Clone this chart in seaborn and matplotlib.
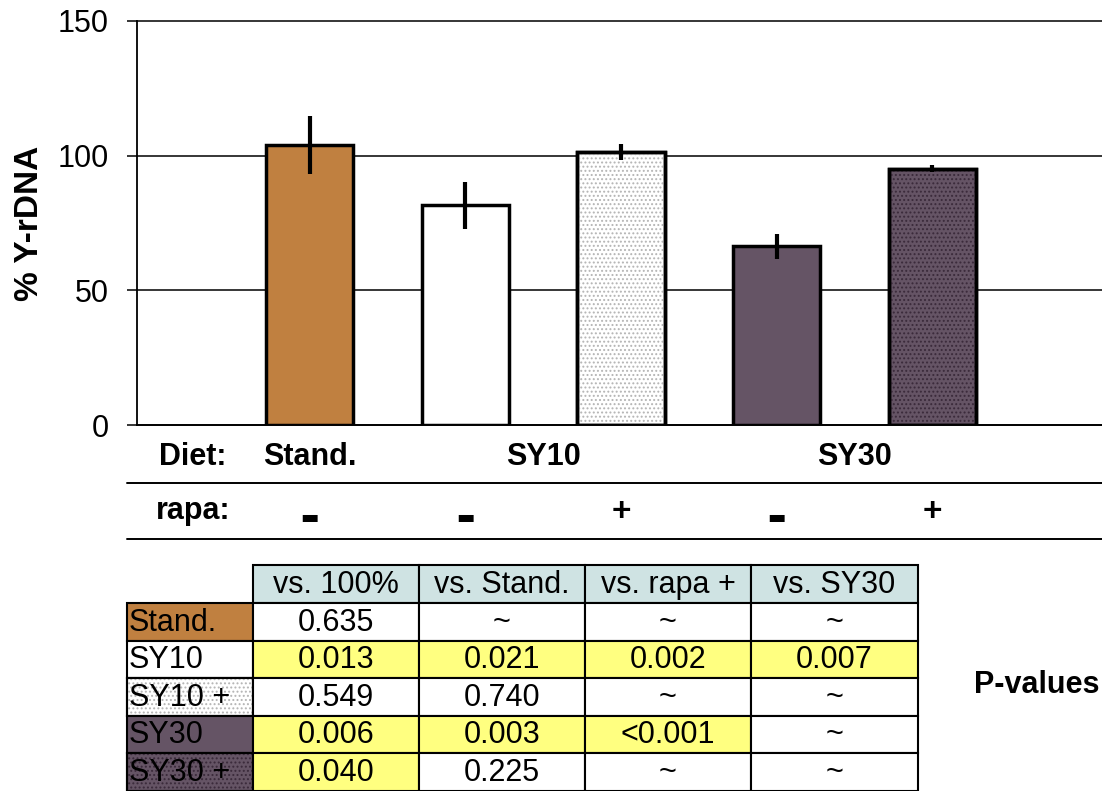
import matplotlib
matplotlib.use("Agg")
import matplotlib.pyplot as plt
from matplotlib.patches import Rectangle
from matplotlib import transforms
import numpy as np
import pandas as pd
import seaborn as sns

# Mean % Y-rDNA per diet / rapamycin group, with error
groups = ["Stand.", "SY10", "SY10 +", "SY30", "SY30 +"]
values = [103.8, 81.6, 101.3, 66.4, 95.2]
errors = [10.8, 8.7, 2.9, 4.7, 1.2]

# Row annotations under the bars
diets = ["Stand.", "SY10", "SY30"]
diet_members = [[0], [1, 2], [3, 4]]
rapa = ["-", "-", "+", "-", "+"]

# P-value table
pcols = ["vs. 100%", "vs. Stand.", "vs. rapa +", "vs. SY30"]
p_stand = ["0.635", "~", "~", "~"]
p_sy10 = ["0.013", "0.021", "0.002", "0.007"]
p_sy10r = ["0.549", "0.740", "~", "~"]
p_sy30 = ["0.006", "0.003", "<0.001", "~"]
p_sy30r = ["0.040", "0.225", "~", "~"]
prows = [p_stand, p_sy10, p_sy10r, p_sy30, p_sy30r]

# Styling
ORANGE = "#C08040"
PURPLE = "#655465"
face = {"Stand.": ORANGE, "SY10": "white", "SY10 +": "white",
        "SY30": PURPLE, "SY30 +": PURPLE}
hatch = {"SY10 +": ("....", "#b4b4b4"), "SY30 +": ("....", "#3a2a3a")}
HEAD = "#CFE3E3"
YELLOW = "#FFFF80"
FS = 22

sns.set_theme(style="white")
plt.rcParams["font.family"] = ["Liberation Sans", "DejaVu Sans"]
plt.rcParams.update({"text.color": "black", "axes.labelcolor": "black",
                     "xtick.color": "black", "ytick.color": "black",
                     "hatch.linewidth": 0.9})

W, H = 1102, 791
fig = plt.figure(figsize=(W / 100, H / 100), dpi=100)
fig.patch.set_facecolor("white")

# Overlay axes in pixel units for the annotation rows and the table
tax = fig.add_axes([0, 0, 1, 1])
tax.set_xlim(0, W)
tax.set_ylim(H, 0)
tax.axis("off")
tax.patch.set_alpha(0)

ax = fig.add_axes([137 / W, 1 - 425.3 / H, (W - 137) / W, (425.3 - 20.7) / H])
ax.patch.set_alpha(0)

df = pd.DataFrame({"group": groups, "value": values})
sns.barplot(data=df, x="group", y="value", hue="group", order=groups,
            hue_order=groups, palette=face, saturation=1, width=0.56,
            errorbar=None, edgecolor="black", linewidth=2.5, legend=False,
            ax=ax, zorder=2)

# dotted fills for the rapamycin groups
for cont, g in zip(ax.containers, groups):
    if g in hatch:
        pat, col = hatch[g]
        for p in cont:
            ax.add_patch(Rectangle(p.get_xy(), p.get_width(), p.get_height(),
                                   facecolor="none", edgecolor=col, linewidth=0,
                                   hatch=pat, zorder=2.1))
            ax.add_patch(Rectangle(p.get_xy(), p.get_width(), p.get_height(),
                                   facecolor="none", edgecolor="black",
                                   linewidth=2.5, zorder=2.2))

ax.errorbar(np.arange(len(groups)), values, yerr=errors, fmt="none",
            ecolor="black", elinewidth=3.0, capsize=0, zorder=3)

ax.set_xlim(-1.11, 5.09)
ax.set_ylim(0, 150)
ax.set_yticks([0, 50, 100, 150])
ax.set_xticks([])
ax.set_xlabel("")
ax.yaxis.grid(True, color="black", linewidth=1.1)
ax.set_axisbelow(True)
for gl in ax.yaxis.get_gridlines():
    gl.set_clip_on(False)
for s in ["top", "right"]:
    ax.spines[s].set_visible(False)
for s in ["left", "bottom"]:
    ax.spines[s].set_color("black")
    ax.spines[s].set_linewidth(1.3)
ax.tick_params(axis="y", direction="out", length=7.2, width=1.1,
               color="black", labelcolor="black", pad=13, labelsize=FS,
               left=True)
ax.set_ylabel("% Y-rDNA", fontsize=24, fontweight="bold", color="black")
ax.yaxis.set_label_coords(-0.095, 0.5)

# Diet / rapa rows below the axis
trans = transforms.blended_transform_factory(ax.transData, tax.transData)
for y in [483, 539]:
    tax.plot([127, W], [y, y], color="black", linewidth=1.4)
tax.text(193, 457, "Diet:", fontsize=FS, fontweight="bold",
         ha="center", va="center")
tax.text(193, 511, "rapa:", fontsize=FS, fontweight="bold",
         ha="center", va="center")
for name, members in zip(diets, diet_members):
    tax.text(np.mean(members), 457, name, transform=trans, fontsize=FS,
             fontweight="bold", ha="center", va="center")
for i, sgn in enumerate(rapa):
    if sgn == "+":
        tax.text(i, 512, "+", transform=trans, fontsize=24,
                 fontweight="bold", ha="center", va="center")
    else:
        tax.text(i, 518, "\u25AC", transform=trans, fontsize=14,
                 family="DejaVu Sans", ha="center", va="center")

# P-value table
def significant(s):
    return s != "~" and float(s.lstrip("<")) < 0.05

xe = [127, 253, 419, 585, 751, 918]
top, hh, rh = 565, 38, 37.5
lw = 1.5
for j, c in enumerate(pcols):
    x0, x1 = xe[j + 1], xe[j + 2]
    tax.add_patch(Rectangle((x0, top), x1 - x0, hh, facecolor=HEAD,
                            edgecolor="black", linewidth=lw))
    tax.text((x0 + x1) / 2, top + hh / 2 + 1, c, fontsize=FS,
             ha="center", va="center")
for i, (g, row) in enumerate(zip(groups, prows)):
    y0 = top + hh + i * rh
    tax.add_patch(Rectangle((xe[0], y0), xe[1] - xe[0], rh,
                            facecolor=face[g], edgecolor="black", linewidth=lw))
    if g in hatch:
        pat, col = hatch[g]
        tax.add_patch(Rectangle((xe[0], y0), xe[1] - xe[0], rh,
                                facecolor="none", edgecolor=col, linewidth=0,
                                hatch=pat))
        tax.add_patch(Rectangle((xe[0], y0), xe[1] - xe[0], rh,
                                facecolor="none", edgecolor="black",
                                linewidth=lw))
    tax.text(xe[0] + 2, y0 + rh / 2 + 1, g, fontsize=FS,
             ha="left", va="center")
    for j, v in enumerate(row):
        x0, x1 = xe[j + 1], xe[j + 2]
        tax.add_patch(Rectangle((x0, y0), x1 - x0, rh,
                                facecolor=YELLOW if significant(v) else "white",
                                edgecolor="black", linewidth=lw))
        tax.text((x0 + x1) / 2, y0 + rh / 2 + 1, v, fontsize=FS,
                 ha="center", va="center")

tax.text(1037, 685, "P-values", fontsize=FS, fontweight="bold",
         ha="center", va="center")

fig.savefig("out.png", dpi=100, facecolor="white")
